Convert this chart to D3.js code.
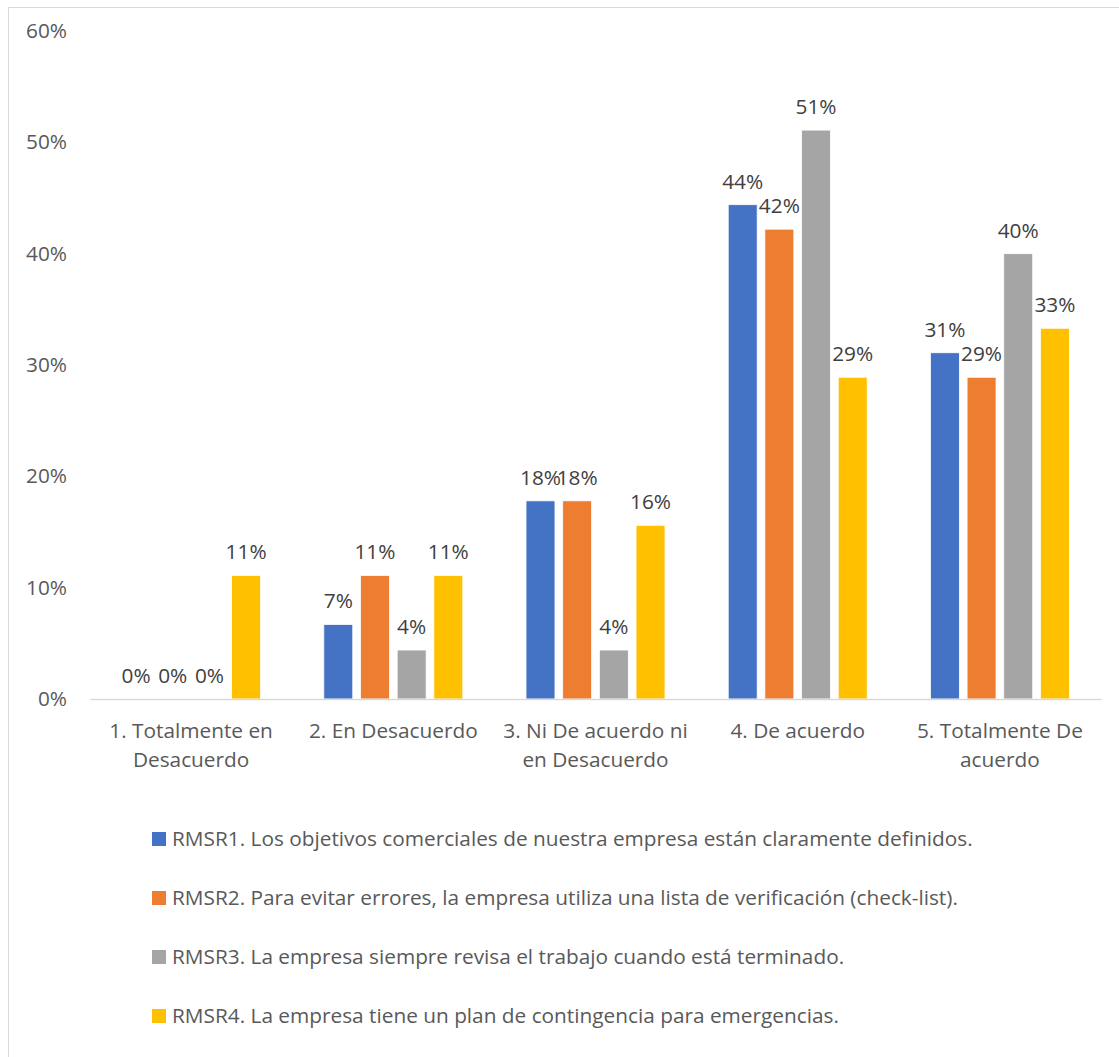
<!DOCTYPE html>
<html><head><meta charset="utf-8">
<script src="https://cdn.jsdelivr.net/npm/d3@7"></script>
<style>html,body{margin:0;padding:0;background:#fff;}svg{display:block;}</style>
</head><body>
<script>
const categories = [["1. Totalmente en","Desacuerdo"],["2. En Desacuerdo"],["3. Ni De acuerdo ni","en Desacuerdo"],["4. De acuerdo"],["5. Totalmente De","acuerdo"]];
const seriesNames = [
 "RMSR1. Los objetivos comerciales de nuestra empresa están claramente definidos.",
 "RMSR2. Para evitar errores, la empresa utiliza una lista de verificación (check-list).",
 "RMSR3. La empresa siempre revisa el trabajo cuando está terminado.",
 "RMSR4. La empresa tiene un plan de contingencia para emergencias."
];
const colors = ["#4472C4","#ED7D31","#A5A5A5","#FFC000"];
const rmsr1 = [0, 0.067, 0.178, 0.444, 0.311];
const rmsr2 = [0, 0.111, 0.178, 0.422, 0.289];
const rmsr3 = [0, 0.044, 0.044, 0.511, 0.400];
const rmsr4 = [0.111, 0.111, 0.156, 0.289, 0.333];
const yTicks = [0, 0.1, 0.2, 0.3, 0.4, 0.5, 0.6];
const series = [rmsr1, rmsr2, rmsr3, rmsr4];

const W = 1119, H = 1057;
const font = "'Open Sans', sans-serif";
const fs = 20.8;
const svg = d3.select("body").append("svg").attr("width", W).attr("height", H);
svg.append("rect").attr("x", 8.5).attr("y", 7.5).attr("width", W).attr("height", H)
  .attr("fill", "#fff").attr("stroke", "#d9d9d9").attr("stroke-width", 1);

const x0 = d3.scaleBand().domain(d3.range(categories.length)).range([90, 1101]).paddingInner(0.3126).paddingOuter(0.1563);
const x1 = d3.scaleBand().domain(d3.range(series.length)).range([0, x0.bandwidth()]).paddingInner(0.21);
const y = d3.scaleLinear().domain([0, 0.6]).range([699, 31]);

// y axis labels
const yAxis = d3.axisLeft(y).tickValues(yTicks).tickFormat(d3.format(".0%")).tickSize(0).tickPadding(0);
const yg = svg.append("g").attr("transform", "translate(67,0)").call(yAxis);
yg.select(".domain").remove();
yg.selectAll("text").attr("font-family", font).attr("font-size", fs).attr("fill", "#595959");

// bars
const groups = svg.append("g").selectAll("g").data(categories).join("g")
  .attr("transform", (d, i) => `translate(${x0(i)},0)`);
groups.each(function(c, ci) {
  const g = d3.select(this);
  series.forEach((s, si) => {
    const v = s[ci];
    if (v > 0) {
      g.append("rect").attr("x", x1(si)).attr("y", y(v)).attr("width", x1.bandwidth())
        .attr("height", y(0) - y(v)).attr("fill", colors[si]).attr("stroke", "#fff").attr("stroke-width", 0.8);
    }
    g.append("text").attr("x", x1(si) + x1.bandwidth() / 2).attr("y", y(v) - 16)
      .attr("text-anchor", "middle").attr("font-family", font).attr("font-size", fs).attr("fill", "#404040")
      .text(d3.format(".0%")(v));
  });
});

// x axis
const xAxis = d3.axisBottom(x0).tickSize(0).tickFormat("");
const xg = svg.append("g").attr("transform", "translate(0,699)").call(xAxis);
xg.select(".domain").attr("stroke", "#d9d9d9").attr("stroke-width", 1.5);
xg.selectAll(".tick").each(function(d) {
  const t = d3.select(this).append("text").attr("text-anchor", "middle").attr("font-family", font)
    .attr("font-size", fs).attr("fill", "#595959");
  categories[d].forEach((line, li) => {
    t.append("tspan").attr("x", 0).attr("y", 39 + li * 29).text(line);
  });
});

// legend
const lg = svg.append("g");
seriesNames.forEach((n, i) => {
  const cy = 839 + i * 59;
  lg.append("rect").attr("x", 152).attr("y", cy - 7).attr("width", 14).attr("height", 14).attr("fill", colors[i]);
  lg.append("text").attr("x", 172).attr("y", cy).attr("dy", "0.35em").attr("font-family", font)
    .attr("font-size", fs).attr("fill", "#595959").text(n);
});
</script>
</body></html>
